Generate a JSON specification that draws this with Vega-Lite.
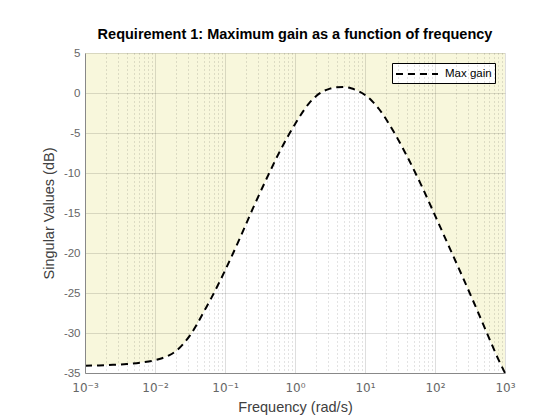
{
  "$schema": "https://vega.github.io/schema/vega-lite/v6.json",
  "width": 420,
  "height": 320,
  "autosize": "none",
  "padding": {"left": 85, "top": 53, "right": 55, "bottom": 47},
  "background": "white",
  "title": {
    "text": "Requirement 1: Maximum gain as a function of frequency",
    "font": "Liberation Sans",
    "fontSize": 14.5,
    "fontWeight": "bold",
    "color": "black",
    "anchor": "middle",
    "baseline": "bottom",
    "offset": -9
  },
  "config": {
    "font": "Liberation Sans",
    "view": {"stroke": null}
  },
  "data": {
    "values": [
      {"f": 0.001, "db": -34.1},
      {"f": 0.001585, "db": -34.05},
      {"f": 0.002512, "db": -33.98},
      {"f": 0.003981, "db": -33.88},
      {"f": 0.00631, "db": -33.7},
      {"f": 0.01, "db": -33.4},
      {"f": 0.01259, "db": -33.15},
      {"f": 0.01585, "db": -32.8},
      {"f": 0.01995, "db": -32.25},
      {"f": 0.02512, "db": -31.4},
      {"f": 0.03162, "db": -30.3},
      {"f": 0.03981, "db": -28.9},
      {"f": 0.05012, "db": -27.3},
      {"f": 0.0631, "db": -25.7},
      {"f": 0.1, "db": -22.2},
      {"f": 0.1585, "db": -18.4},
      {"f": 0.2512, "db": -14.4},
      {"f": 0.3981, "db": -10.6},
      {"f": 0.631, "db": -7.0},
      {"f": 1, "db": -3.9},
      {"f": 1.585, "db": -1.3},
      {"f": 1.995, "db": -0.4},
      {"f": 2.512, "db": 0.2},
      {"f": 3.162, "db": 0.55},
      {"f": 3.981, "db": 0.72},
      {"f": 5.012, "db": 0.74},
      {"f": 6.31, "db": 0.6},
      {"f": 7.943, "db": 0.25},
      {"f": 10, "db": -0.25},
      {"f": 12.59, "db": -1.0},
      {"f": 15.85, "db": -2.0},
      {"f": 25.12, "db": -4.7},
      {"f": 39.81, "db": -7.9},
      {"f": 63.1, "db": -11.45},
      {"f": 100, "db": -15.3},
      {"f": 158.5, "db": -19.2},
      {"f": 251.2, "db": -23.1},
      {"f": 398.1, "db": -27.1},
      {"f": 631, "db": -31.2},
      {"f": 794.3, "db": -33.2},
      {"f": 1000, "db": -35.0}
    ]
  },
  "encoding": {
    "x": {
      "field": "f",
      "type": "quantitative",
      "scale": {"type": "log", "domain": [0.001, 1000], "nice": false},
      "axis": {
        "title": "Frequency (rad/s)",
        "titleFontSize": 14.5,
        "titleFontWeight": "normal",
        "titleColor": "#404040",
        "titlePadding": 7,
        "values": [0.001, 0.002, 0.003, 0.004, 0.005, 0.006, 0.007, 0.008, 0.009,
                   0.01, 0.02, 0.03, 0.04, 0.05, 0.06, 0.07, 0.08, 0.09,
                   0.1, 0.2, 0.3, 0.4, 0.5, 0.6, 0.7, 0.8, 0.9,
                   1, 2, 3, 4, 5, 6, 7, 8, 9,
                   10, 20, 30, 40, 50, 60, 70, 80, 90,
                   100, 200, 300, 400, 500, 600, 700, 800, 900, 1000],
        "labelExpr": "abs(log(datum.value)/LN10 - round(log(datum.value)/LN10)) > 0.001 ? '' : ['10⁻³','10⁻²','10⁻¹','10⁰','10¹','10²','10³'][round(log(datum.value)/LN10)+3]",
        "labelFont": "DejaVu Sans",
        "labelFontSize": 12,
        "labelColor": "#666666",
        "labelPadding": 9,
        "labelFlush": false,
        "labelOverlap": false,
        "ticks": false,
        "domainColor": "#888888",
        "gridColor": "black",
        "gridOpacity": {"condition": {"test": "abs(log(datum.value)/LN10 - round(log(datum.value)/LN10)) < 0.001", "value": 0.13}, "value": 0.22},
        "gridDash": {"condition": {"test": "abs(log(datum.value)/LN10 - round(log(datum.value)/LN10)) < 0.001", "value": []}, "value": [1, 3]},
        "zindex": 1
      }
    },
    "y": {
      "field": "db",
      "type": "quantitative",
      "scale": {"domain": [-35, 5], "nice": false},
      "axis": {
        "title": "Singular Values (dB)",
        "titleFontSize": 14.5,
        "titleFontWeight": "normal",
        "titleColor": "#404040",
        "titlePadding": 7,
        "values": [-35, -30, -25, -20, -15, -10, -5, 0, 5],
        "labelExpr": "datum.value < 0 ? '-' + abs(datum.value) : '' + datum.value",
        "labelFontSize": 11.5,
        "labelColor": "#666666",
        "labelPadding": 5,
        "labelOverlap": false,
        "labelFlush": false,
        "ticks": false,
        "domainColor": "#888888",
        "gridColor": "black",
        "gridOpacity": 0.13,
        "zindex": 1
      }
    }
  },
  "layer": [
    {
      "mark": {"type": "area", "color": "#f8f7dc", "interpolate": "monotone"},
      "encoding": {
        "y2": {"datum": 5}
      }
    },
    {
      "mark": {"type": "line", "color": "black", "strokeWidth": 2, "interpolate": "monotone"},
      "encoding": {
        "strokeDash": {
          "datum": "Max gain",
          "scale": {"range": [[7, 5]]},
          "legend": {
            "title": null,
            "orient": "top-right",
            "offset": 10,
            "fillColor": "white",
            "strokeColor": "black",
            "padding": 3,
            "labelFontSize": 11.5,
            "labelColor": "black",
            "symbolType": "M-3,0H3",
            "symbolSize": 196,
            "symbolStrokeWidth": 2,
            "symbolStrokeColor": "black",
            "symbolOffset": 14,
            "labelOffset": 20
          }
        }
      }
    }
  ]
}
